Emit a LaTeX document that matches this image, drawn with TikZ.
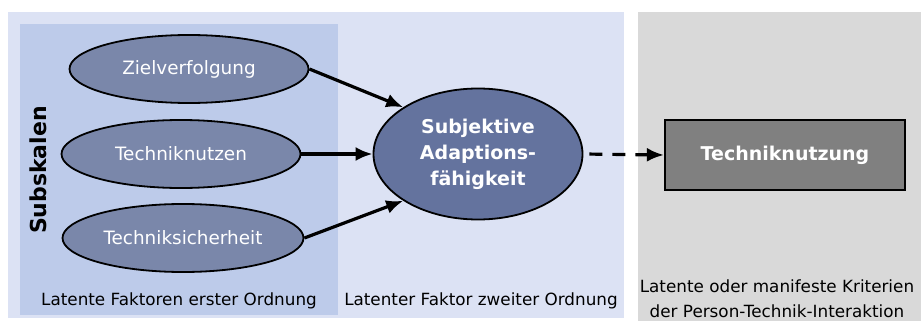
\documentclass[tikz,border=0pt]{standalone}
\usepackage{fontspec}
\setmainfont{DejaVu Sans}
\usetikzlibrary{positioning, shapes.geometric, arrows.meta}
\definecolor {panelblue}{HTML}{DCE2F4}
\definecolor {innerblue}{HTML}{BDCBEA}
\definecolor {subblue}{HTML}{7A87AA}
\definecolor {factorblue}{HTML}{64739E}
\definecolor {panelgrey}{HTML}{D9D9D9}
\definecolor {boxgrey}{HTML}{808080}

\begin{document}
\begin{tikzpicture}[x=1pt, y=-1pt, -{Latex[length=17pt,width=14pt]}, line width=3.2pt,
            subscale/.style ={ ellipse, fill=subblue, draw=black, line width=1.8pt, text=white,
            inner sep=0pt, minimum width=239pt, minimum height=68pt, align=center,
            font=\fontsize{18.4}{22}\selectfont},
            factor/.style ={ ellipse, fill=factorblue, draw=black, line width=1.8pt, text=white,
            inner sep=0pt, minimum width=209pt, minimum height=131pt, align=center,
            font=\bfseries\fontsize{19}{26}\selectfont},
            criterion/.style ={ rectangle, fill=boxgrey, draw=black, line width=2.2pt, text=white,
            inner sep=0pt, minimum width=240pt, minimum height=70pt, font=\bfseries\fontsize{19}{23}\selectfont},
            caption/.style ={ align=center, inner sep=0pt, font=\fontsize{16.8}{25}\selectfont}]

        \useasboundingbox (0,0) rectangle (921,321);

        %%--------------------------fondos-------------------------
        \fill[panelblue] (8,12) rectangle (624,318);
        \fill[innerblue] (20,24) rectangle (338,315);
        \fill[panelgrey] (638,12) rectangle (921,321);

        %%--------------------------nodos--------------------------
        \node[subscale] (Z) at (189, 69) {Zielverfolgung};
        \node[subscale] (N) at (181, 154) {Techniknutzen};
        \node[subscale, minimum width=241pt] (S) at (183, 238) {Techniksicherheit};

        \node[factor] (F) at (478, 154) {Subjektive\\Adaptions-\\fähigkeit};

        \node[criterion] (T) at (785, 155) {Techniknutzung};

        \node[rotate=90, inner sep=0pt, font=\bfseries\fontsize{22}{24}\selectfont] (sub) at (38, 170) {Subskalen};

        \node[caption] (cap1) at (179, 301) {Latente Faktoren erster Ordnung};
        \node[caption] (cap2) at (481, 301) {Latenter Faktor zweiter Ordnung};
        \node[caption] (cap3) at (777, 299) {Latente oder manifeste Kriterien\\der Person-Technik-Interaktion};

        %%--------------------------flechas------------------------

        \path (Z.east) edge (F.148);
        \path (N.east) edge (F.west);
        \path (S.east) edge (F.212);

        \path (F.east) edge[dash pattern=on 13pt off 10pt, shorten <=6pt] (T.west);

    \end{tikzpicture}
\end{document}
